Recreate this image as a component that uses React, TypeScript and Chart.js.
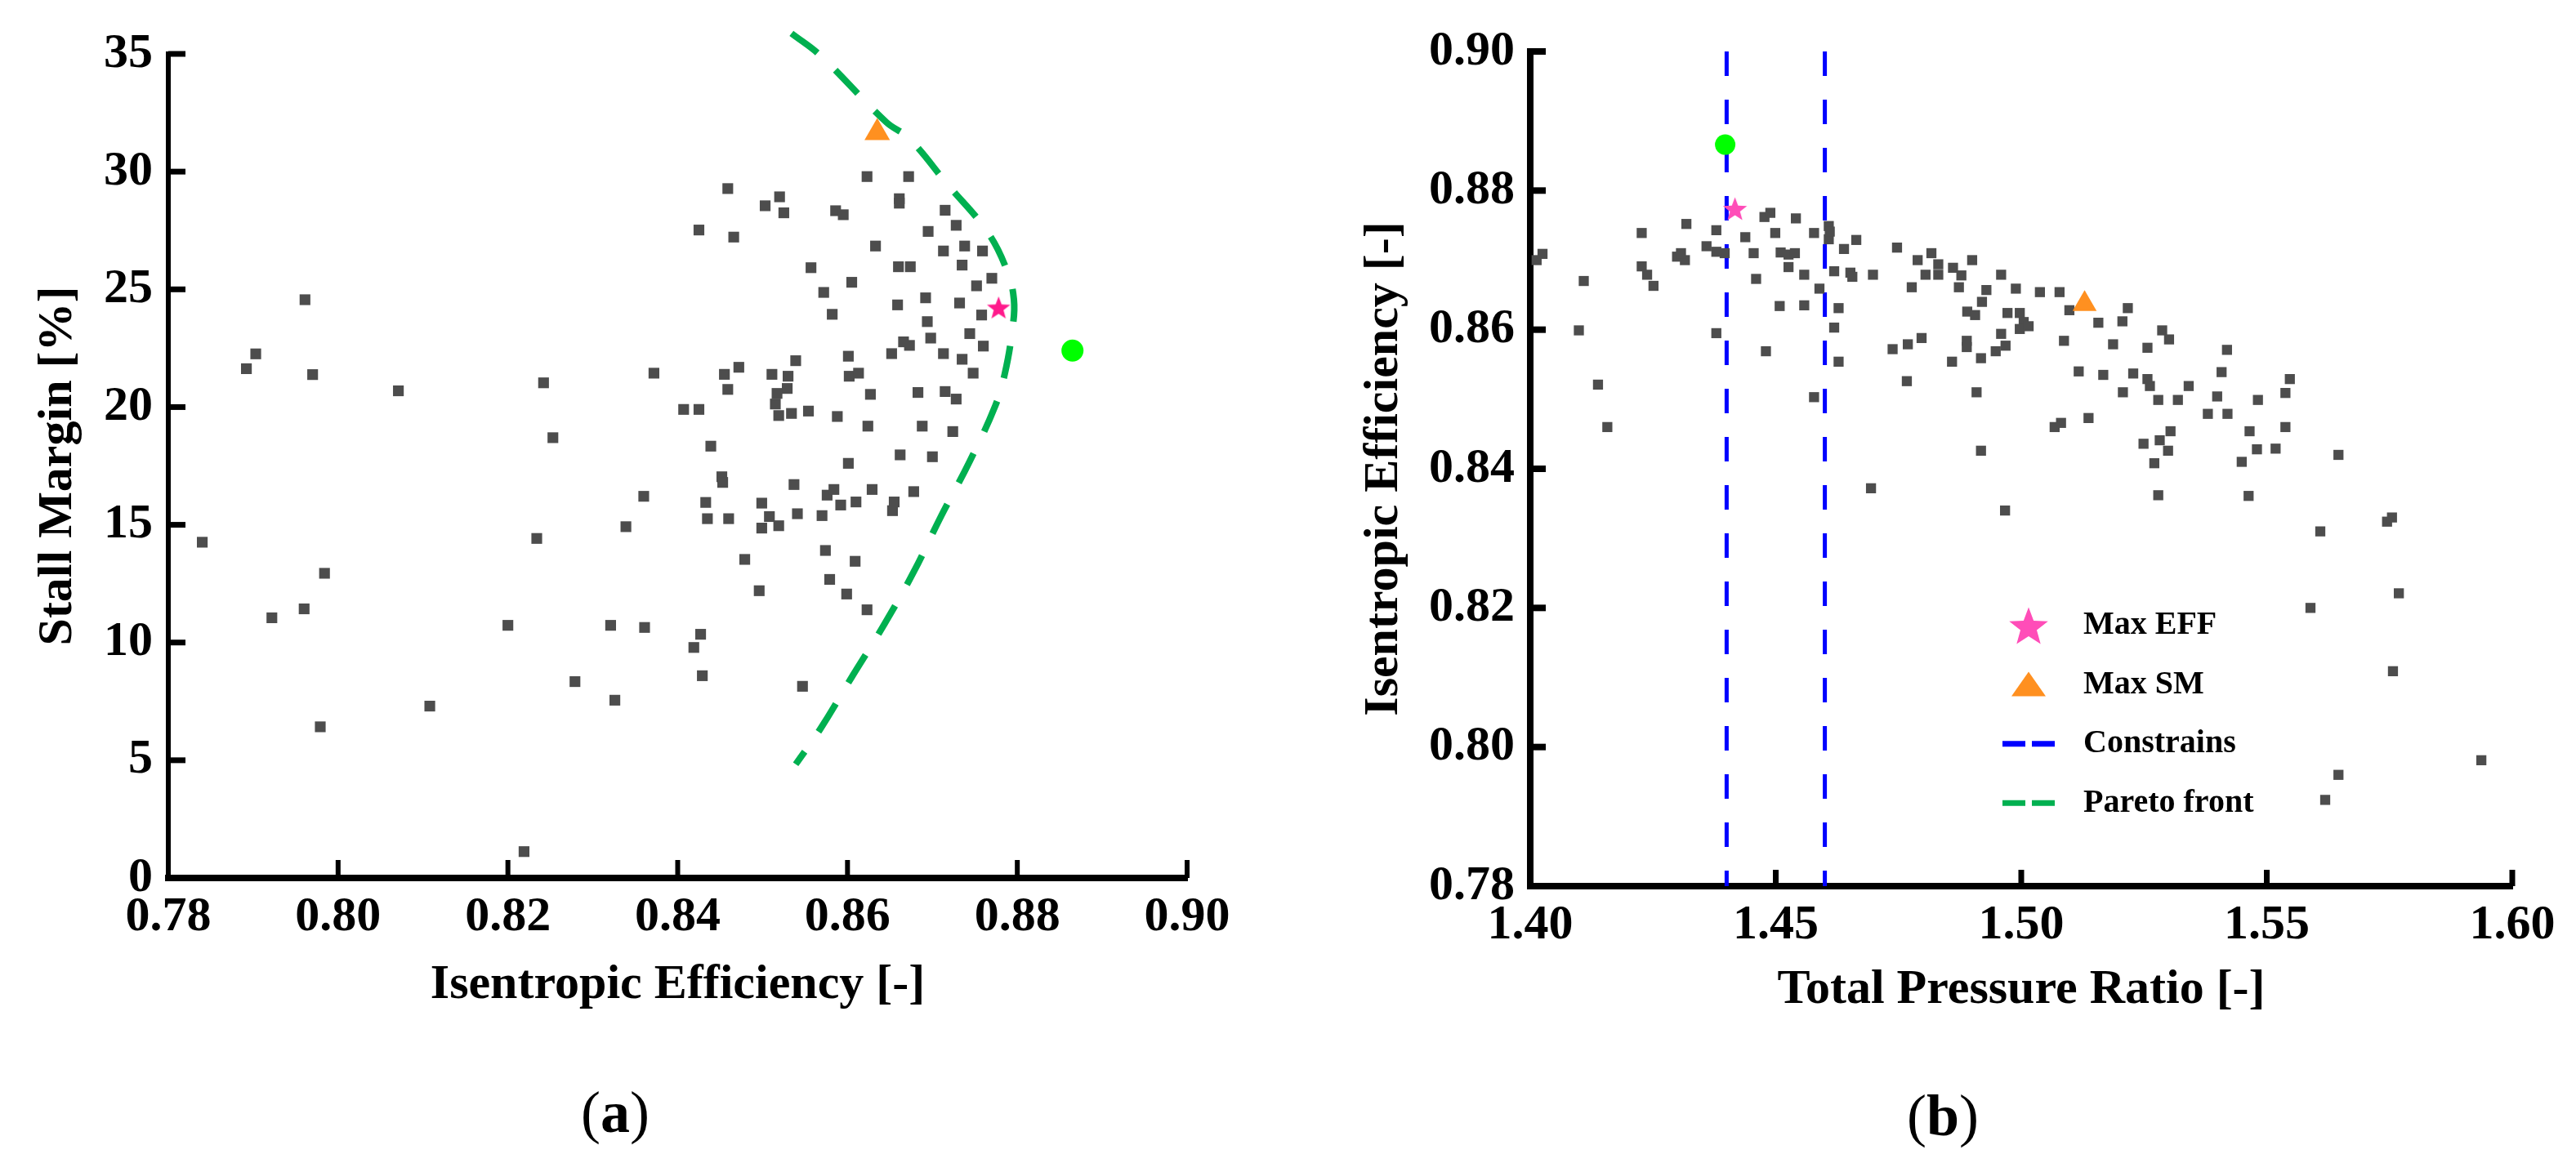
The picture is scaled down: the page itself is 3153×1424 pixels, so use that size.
import React, { useEffect, useRef } from 'react';
import { Chart, registerables } from 'chart.js';

Chart.register(...registerables);

// ---------------- Panel (a): Stall margin vs isentropic efficiency ----------------
const effA = [
  0.8459, 0.8520, 0.8503, 0.8525, 0.8425, 0.8466, 0.8586, 0.8595, 0.8623, 0.8672,
  0.8661, 0.8661, 0.8715, 0.8695, 0.8728, 0.8633, 0.8713, 0.8738, 0.8759, 0.8557,
  0.8660, 0.8674, 0.8735, 0.8605, 0.8572, 0.8770, 0.8752, 0.8659, 0.8692, 0.8732,
  0.8582, 0.8758, 0.8694, 0.8698, 0.8744, 0.8760, 0.8666, 0.8673, 0.8652, 0.8713,
  0.8735, 0.8748, 0.8601, 0.8539, 0.8472, 0.8455, 0.8511, 0.8530, 0.8602, 0.8613,
  0.8459, 0.8529, 0.8517, 0.8515, 0.8519, 0.8534, 0.8554, 0.8407, 0.8425, 0.8627,
  0.8683, 0.8715, 0.8728, 0.8588, 0.8624, 0.8688, 0.8724, 0.8439, 0.8662, 0.8700,
  0.8601, 0.8452, 0.8453, 0.8537, 0.8576, 0.8584, 0.8629, 0.8678, 0.8433, 0.8499,
  0.8592, 0.8610, 0.8655, 0.8653, 0.8435, 0.8460, 0.8508, 0.8541, 0.8570, 0.8499,
  0.8519, 0.8574, 0.8609, 0.8479, 0.8579, 0.8496, 0.8599, 0.8623, 0.8427, 0.8419,
  0.8429, 0.8547,
  0.7840, 0.7892, 0.7903, 0.7961, 0.7970, 0.7984, 0.7960, 0.7922, 0.7979, 0.8071,
  0.8108, 0.8200, 0.8219, 0.8242, 0.8253, 0.8234, 0.8279, 0.8321, 0.8326, 0.8339,
  0.8361, 0.8360, 0.8372,
];
const smA = [
  29.28, 28.93, 28.55, 28.25, 27.52, 27.22, 28.34, 28.17, 29.79, 29.79,
  28.85, 28.66, 28.36, 27.46, 27.72, 26.84, 26.63, 26.84, 26.63, 25.92,
  25.96, 25.96, 26.03, 25.30, 24.87, 25.47, 25.15, 24.34, 24.64, 24.42,
  23.94, 23.91, 23.63, 22.93, 23.12, 22.59, 22.77, 22.62, 22.27, 22.27,
  22.03, 21.44, 22.16, 21.97, 21.69, 21.39, 21.39, 21.31, 21.31, 21.44,
  20.75, 20.79, 20.58, 20.13, 19.64, 19.73, 19.83, 19.90, 19.90, 20.54,
  20.62, 20.66, 20.34, 19.60, 19.19, 19.19, 18.96, 18.34, 17.97, 17.89,
  17.61, 17.04, 16.80, 16.71, 16.26, 16.50, 16.50, 16.41, 15.95, 15.92,
  15.84, 15.97, 15.97, 15.60, 15.26, 15.26, 15.35, 15.47, 15.39, 14.86,
  14.96, 13.91, 13.45, 13.53, 12.68, 12.20, 12.06, 11.39, 10.35, 9.79,
  8.59, 8.14,
  14.26, 21.63, 22.26, 24.56, 21.38, 12.94, 11.43, 11.05, 6.42, 20.69,
  7.30, 10.73, 1.12, 21.03, 18.70, 14.42, 8.34, 10.73, 7.55, 14.92,
  10.64, 16.21, 21.44,
];
const paretoEff = [0.8534, 0.8568, 0.8646, 0.8672, 0.8718, 0.8764, 0.8787, 0.8796, 0.8794, 0.8785, 0.8774, 0.8744, 0.8710, 0.8678, 0.8643, 0.8606, 0.8568, 0.8539];
const paretoSM = [35.87, 34.93, 32.09, 31.43, 29.45, 27.48, 25.88, 24.57, 23.25, 21.37, 20.05, 17.70, 15.35, 13.00, 10.75, 8.59, 6.33, 4.83];
const maxEffA = [0.8778, 24.23];
const maxSmA = [0.8635, 31.65];
const optimumA = [0.8865, 22.40];
const xTicksA = [0.78, 0.8, 0.82, 0.84, 0.86, 0.88, 0.9];
const yTicksA = [0, 5, 10, 15, 20, 25, 30, 35];

// ---------------- Panel (b): Isentropic efficiency vs total pressure ratio ----------------
const prB = [
  1.4013, 1.4025, 1.4109, 1.4227, 1.4227, 1.4238, 1.4251, 1.4318, 1.4299, 1.4315,
  1.4307, 1.4359, 1.4379, 1.4396, 1.4379, 1.4438, 1.4477, 1.4489, 1.4541, 1.4499,
  1.4455, 1.4510, 1.4526, 1.4539, 1.4526, 1.4558, 1.4460, 1.4578, 1.4608, 1.4608,
  1.4610, 1.4589, 1.4619, 1.4652, 1.4656, 1.4639, 1.4664, 1.4698, 1.4747, 1.4789,
  1.4817, 1.4831, 1.4805, 1.4831, 1.4777, 1.4861, 1.4878, 1.4873, 1.4900, 1.4959,
  1.4929, 1.4989, 1.5038, 1.5078, 1.4920, 1.4890, 1.4906, 1.4972, 1.4997, 1.5005,
  1.4997, 1.5015, 1.5098, 1.5217, 1.5206, 1.5157, 1.5287, 1.5301, 1.5087, 1.5187,
  1.5257, 1.5419, 1.4959, 1.4968, 1.4948, 1.4889, 1.4889, 1.4797, 1.4769, 1.4738,
  1.4918, 1.4859, 1.4628, 1.4619, 1.4628, 1.4558, 1.4508, 1.4480, 1.4379, 1.4099,
  1.4138, 1.4157, 1.4578, 1.4767, 1.4909, 1.5117, 1.5167, 1.5228, 1.5257, 1.5262,
  1.5207, 1.5279, 1.5319, 1.5341, 1.5408, 1.5399, 1.5482, 1.5538, 1.5547, 1.5380,
  1.5420, 1.5081, 1.5068, 1.5137, 1.5304, 1.5282, 1.5249, 1.5299, 1.5271, 1.5465,
  1.5538, 1.5480, 1.5518, 1.5449, 1.5646, 1.4918, 1.4694, 1.4967, 1.5279, 1.5463,
  1.5609, 1.5745, 1.5755, 1.5589, 1.5769, 1.5757, 1.5646, 1.5619, 1.5937,
];
const effB = [
  0.8700, 0.8709, 0.8670, 0.8739, 0.8691, 0.8679, 0.8663, 0.8752, 0.8705, 0.8700,
  0.8710, 0.8720, 0.8712, 0.8710, 0.8743, 0.8733, 0.8762, 0.8768, 0.8760, 0.8739,
  0.8710, 0.8711, 0.8708, 0.8710, 0.8690, 0.8679, 0.8673, 0.8739, 0.8749, 0.8730,
  0.8741, 0.8659, 0.8684, 0.8682, 0.8676, 0.8716, 0.8729, 0.8679, 0.8718, 0.8700,
  0.8710, 0.8694, 0.8679, 0.8679, 0.8661, 0.8689, 0.8678, 0.8661, 0.8700, 0.8679,
  0.8657, 0.8659, 0.8654, 0.8654, 0.8640, 0.8626, 0.8621, 0.8624, 0.8624, 0.8611,
  0.8601, 0.8605, 0.8628, 0.8631, 0.8612, 0.8610, 0.8599, 0.8586, 0.8584, 0.8579,
  0.8574, 0.8571, 0.8594, 0.8577, 0.8569, 0.8584, 0.8575, 0.8588, 0.8579, 0.8572,
  0.8559, 0.8554, 0.8554, 0.8603, 0.8631, 0.8635, 0.8634, 0.8569, 0.8595, 0.8599,
  0.8521, 0.8460, 0.8503, 0.8526, 0.8510, 0.8540, 0.8535, 0.8537, 0.8529, 0.8519,
  0.8510, 0.8499, 0.8499, 0.8519, 0.8539, 0.8504, 0.8499, 0.8509, 0.8529, 0.8479,
  0.8479, 0.8466, 0.8460, 0.8473, 0.8454, 0.8441, 0.8436, 0.8426, 0.8408, 0.8454,
  0.8460, 0.8428, 0.8429, 0.8410, 0.8420, 0.8426, 0.8372, 0.8340, 0.8362, 0.8361,
  0.8310, 0.8324, 0.8330, 0.8200, 0.8221, 0.8109, 0.7960, 0.7924, 0.7981,
];
const constraintPR = [1.44, 1.46];
const maxEffB = [1.4417, 0.8774];
const maxSmB = [1.5129, 0.8637];
const optimumB = [1.4397, 0.8866];
const xTicksB = [1.4, 1.45, 1.5, 1.55, 1.6];
const yTicksB = [0.78, 0.8, 0.82, 0.84, 0.86, 0.88, 0.9];
const legendLabelsB = ['Max EFF', 'Max SM', 'Constrains', 'Pareto front'];

// ---------------- styling ----------------
const FONT = "'Liberation Serif', 'Times New Roman', serif";
const GRAY = '#4d4d4d';
const ORANGE = '#ff9020';
const LIME = '#00ff00';
const PARETO_GREEN = '#00b050';
const BLUE = '#0000ff';

function makeStar(d: number, color: string, inner = 0.42): HTMLCanvasElement {
  const c = document.createElement('canvas');
  c.width = d;
  c.height = d;
  const g = c.getContext('2d') as CanvasRenderingContext2D;
  const r = d / 2;
  const shift = r * 0.095;
  g.beginPath();
  for (let i = 0; i < 10; i++) {
    const a = -Math.PI / 2 + (i * Math.PI) / 5;
    const rr = i % 2 ? r * inner : r;
    g.lineTo(r + rr * Math.cos(a), r + shift + rr * Math.sin(a));
  }
  g.closePath();
  g.fillStyle = color;
  g.fill();
  return c;
}

const tickFont = { family: FONT, size: 60, weight: 'bold' as const };

function innerTicksPlugin(xLen: number, yLen: number, xW: number, yW: number) {
  return {
    id: 'innerTicks',
    afterDraw(chart: any) {
      const { ctx, chartArea } = chart;
      const xs = chart.scales.x;
      const ys = chart.scales.y;
      ctx.save();
      ctx.strokeStyle = '#000';
      ctx.lineWidth = xW;
      xs.ticks.forEach((t: any) => {
        const px = xs.getPixelForValue(t.value);
        ctx.beginPath();
        ctx.moveTo(px, chartArea.bottom);
        ctx.lineTo(px, chartArea.bottom - xLen);
        ctx.stroke();
      });
      ctx.lineWidth = yW;
      ys.ticks.forEach((t: any) => {
        const py = ys.getPixelForValue(t.value);
        ctx.beginPath();
        ctx.moveTo(chartArea.left, py);
        ctx.lineTo(chartArea.left + yLen, py);
        ctx.stroke();
      });
      ctx.restore();
    },
  };
}

function buildOptions(p: {
  xMin: number; xMax: number; yMin: number; yMax: number;
  xTicks: number[]; yTicks: number[]; xFmt: number; yFmt: number;
  xTitle: string; yTitle: string; pad: any; yWidth: number; xHeight: number;
  yTitlePad: number; xTitlePad: number; xBorder: number; yBorder: number;
}) {
  return {
    responsive: false,
    animation: false,
    devicePixelRatio: 1,
    events: [],
    layout: { padding: p.pad, autoPadding: false },
    plugins: { legend: { display: false }, tooltip: { enabled: false } },
    scales: {
      x: {
        type: 'linear',
        min: p.xMin,
        max: p.xMax,
        afterBuildTicks: (s: any) => { s.ticks = p.xTicks.map((v) => ({ value: v })); },
        afterFit: (s: any) => { s.height = p.xHeight; },
        ticks: {
          font: tickFont, color: '#000', padding: 12, autoSkip: false, maxRotation: 0,
          callback: (v: any) => Number(v).toFixed(p.xFmt),
        },
        grid: { display: false, drawTicks: false },
        border: { display: true, color: '#000', width: p.xBorder },
        title: { display: true, text: p.xTitle, color: '#000', font: tickFont, padding: { top: 0, bottom: p.xTitlePad } },
      },
      y: {
        type: 'linear',
        min: p.yMin,
        max: p.yMax,
        afterBuildTicks: (s: any) => { s.ticks = p.yTicks.map((v) => ({ value: v })); },
        afterFit: (s: any) => { s.width = p.yWidth; },
        ticks: {
          font: tickFont, color: '#000', padding: 19, autoSkip: false,
          callback: (v: any) => Number(v).toFixed(p.yFmt),
        },
        grid: { display: false, drawTicks: false },
        border: { display: true, color: '#000', width: p.yBorder },
        title: { display: true, text: p.yTitle, color: '#000', font: tickFont, padding: { top: p.yTitlePad, bottom: 0 } },
      },
    },
  };
}

const pts = (xs: number[], ys: number[]) => xs.map((x, i) => ({ x, y: ys[i] }));

export default function App() {
  const refA = useRef<HTMLCanvasElement | null>(null);
  const refB = useRef<HTMLCanvasElement | null>(null);

  useEffect(() => {
    if (!refA.current || !refB.current) return;

    const starA = makeStar(30, '#ff1a8c');
    const starB = makeStar(31, '#ff4db8');
    const starLegend = makeStar(50, '#ff4db8');

    const chartA = new Chart(refA.current, {
      type: 'scatter',
      data: {
        datasets: [
          { label: 'Max EFF', data: pts([maxEffA[0]], [maxEffA[1]]), pointStyle: starA, pointRadius: 15, order: 0 },
          { label: 'Max SM', data: pts([maxSmA[0]], [maxSmA[1]]), pointStyle: 'triangle', pointRadius: 18, backgroundColor: ORANGE, borderWidth: 0, order: 1 },
          { label: 'Optimum', data: pts([optimumA[0]], [optimumA[1]]), pointStyle: 'circle', pointRadius: 13.5, backgroundColor: LIME, borderWidth: 0, order: 2 },
          {
            label: 'Pareto front', data: pts(paretoEff, paretoSM), showLine: true, borderColor: PARETO_GREEN,
            borderWidth: 8, borderDash: [40, 30], pointRadius: 0, tension: 0.4, clip: false, fill: false, order: 3,
          },
          { label: 'Designs', data: pts(effA, smA), pointStyle: 'rect', pointRadius: 9.3, backgroundColor: GRAY, borderWidth: 0, order: 4 },
        ],
      } as any,
      options: buildOptions({
        xMin: xTicksA[0], xMax: xTicksA[xTicksA.length - 1], yMin: yTicksA[0], yMax: yTicksA[yTicksA.length - 1],
        xTicks: xTicksA, yTicks: yTicksA, xFmt: 2, yFmt: 0,
        xTitle: 'Isentropic Efficiency [-]', yTitle: 'Stall Margin [%]',
        pad: { left: 0, top: 66, right: 107, bottom: 0 }, yWidth: 206, xHeight: 225,
        yTitlePad: 35, xTitlePad: 58, xBorder: 8, yBorder: 6,
      }) as any,
      plugins: [innerTicksPlugin(22, 21, 6, 7)],
    });

    const legendPlugin = {
      id: 'cornerLegend',
      afterDraw(chart: any) {
        const { ctx, chartArea } = chart;
        const sx = chartArea.left + 610;
        const y0 = chartArea.top + 703;
        const gap = 72.4;
        const tx = chartArea.left + 677;
        ctx.save();
        legendLabelsB.forEach((text, i) => {
          const cy = y0 + i * gap;
          if (i === 0) {
            ctx.drawImage(starLegend, sx - 25, cy - 25);
          } else if (i === 1) {
            ctx.beginPath();
            ctx.moveTo(sx, cy - 16);
            ctx.lineTo(sx + 21, cy + 14);
            ctx.lineTo(sx - 21, cy + 14);
            ctx.closePath();
            ctx.fillStyle = ORANGE;
            ctx.fill();
          } else {
            ctx.beginPath();
            ctx.setLineDash([28, 8]);
            ctx.lineWidth = 7;
            ctx.strokeStyle = i === 2 ? BLUE : PARETO_GREEN;
            ctx.moveTo(sx - 32, cy);
            ctx.lineTo(sx + 32, cy);
            ctx.stroke();
            ctx.setLineDash([]);
          }
          ctx.fillStyle = '#000';
          ctx.font = `bold 40px ${FONT}`;
          ctx.textAlign = 'left';
          ctx.textBaseline = 'middle';
          ctx.fillText(text, tx, cy);
        });
        ctx.restore();
      },
    };

    const yMinB = yTicksB[0];
    const yMaxB = yTicksB[yTicksB.length - 1];
    const chartB = new Chart(refB.current, {
      type: 'scatter',
      data: {
        datasets: [
          { label: 'Optimum', data: pts([optimumB[0]], [optimumB[1]]), pointStyle: 'circle', pointRadius: 12.5, backgroundColor: LIME, borderWidth: 0, order: 0 },
          { label: legendLabelsB[0], data: pts([maxEffB[0]], [maxEffB[1]]), pointStyle: starB, pointRadius: 15, order: 1 },
          { label: legendLabelsB[1], data: pts([maxSmB[0]], [maxSmB[1]]), pointStyle: 'triangle', pointRadius: 17, backgroundColor: ORANGE, borderWidth: 0, order: 2 },
          { label: 'Designs', data: pts(prB, effB), pointStyle: 'rect', pointRadius: 8.7, backgroundColor: GRAY, borderWidth: 0, order: 3 },
          ...constraintPR.map((c, i) => ({
            label: i === 0 ? legendLabelsB[2] : legendLabelsB[2] + ' ',
            data: pts([c, c], [yMaxB, yMinB]), showLine: true, borderColor: BLUE, borderWidth: 5,
            borderDash: [30, 29], pointRadius: 0, fill: false, order: 4 + i,
          })),
        ],
      } as any,
      options: buildOptions({
        xMin: xTicksB[0], xMax: xTicksB[xTicksB.length - 1], yMin: yMinB, yMax: yMaxB,
        xTicks: xTicksB, yTicks: yTicksB, xFmt: 2, yFmt: 2,
        xTitle: 'Total Pressure Ratio [-]', yTitle: 'Isentropic Efficiency [-]',
        pad: { left: 0, top: 63, right: 78, bottom: 0 }, yWidth: 293, xHeight: 215,
        yTitlePad: 78, xTitlePad: 52, xBorder: 8, yBorder: 8,
      }) as any,
      plugins: [innerTicksPlugin(20, 19, 7, 8), legendPlugin],
    });

    return () => {
      chartA.destroy();
      chartB.destroy();
    };
  }, []);

  const captionStyle: React.CSSProperties = {
    position: 'absolute',
    width: 300,
    textAlign: 'center',
    fontFamily: FONT,
    fontSize: 72,
    lineHeight: '72px',
    color: '#000',
  };

  return (
    <div style={{ position: 'absolute', left: 0, top: 0, width: 3153, height: 1424, background: '#fff', overflow: 'hidden' }}>
      <canvas ref={refA} width={1560} height={1300} style={{ position: 'absolute', left: 0, top: 0, width: 1560, height: 1300, display: 'block' }} />
      <canvas ref={refB} width={1573} height={1300} style={{ position: 'absolute', left: 1580, top: 0, width: 1573, height: 1300, display: 'block' }} />
      <div style={{ ...captionStyle, left: 753 - 150, top: 1326 }}>(<b>a</b>)</div>
      <div style={{ ...captionStyle, left: 2378 - 150, top: 1330 }}>(<b>b</b>)</div>
    </div>
  );
}
